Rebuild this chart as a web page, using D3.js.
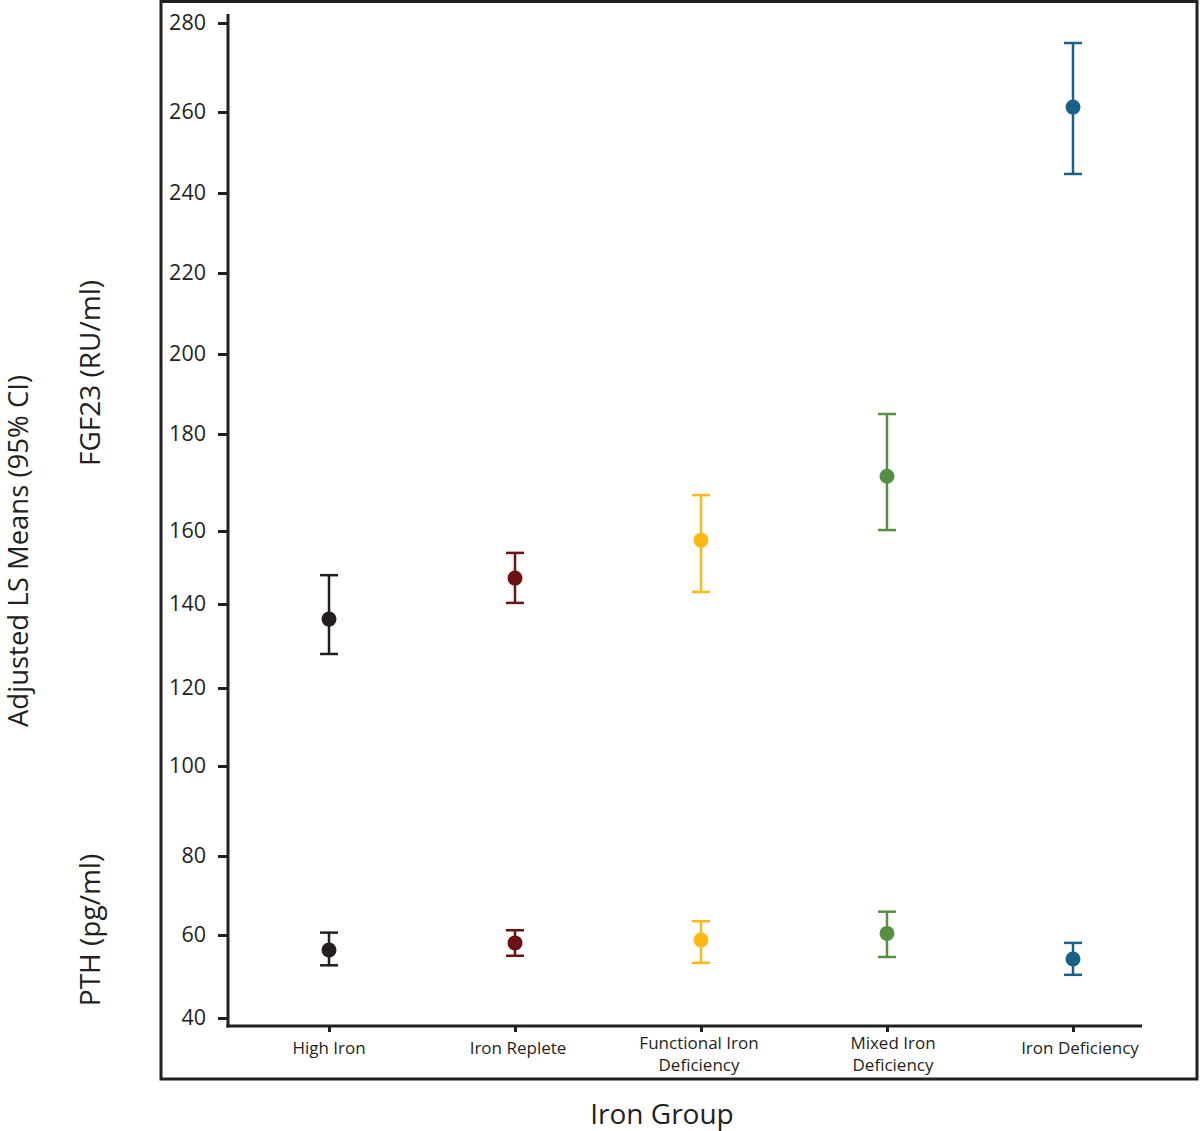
<!DOCTYPE html>
<html>
<head>
<meta charset="utf-8">
<script src="https://cdn.jsdelivr.net/npm/d3@7"></script>
<style>
  html, body { margin: 0; padding: 0; background: #fff; }
  svg text { font-family: "Open Sans", "Noto Sans", sans-serif; fill: #231f20; }
</style>
</head>
<body>
<svg id="chart" width="1200" height="1131"></svg>
<script>
// ---- Data ----
const categories = ["High Iron", "Iron Replete", "Functional Iron\nDeficiency", "Mixed Iron\nDeficiency", "Iron Deficiency"];
const colors = ["#231f20", "#6b1313", "#fdb913", "#558f41", "#1a6189"];

const fgf23Mean  = [136.4, 147.1, 157.5, 171.3, 261.1];
const fgf23Lower = [128.1, 140.3, 143.3, 160.2, 244.7];
const fgf23Upper = [147.9, 154.0, 167.4, 185.0, 275.5];

const pthMean  = [56.4, 58.1, 58.8, 60.4, 54.2];
const pthLower = [52.7, 55.0, 53.3, 54.7, 50.4];
const pthUpper = [60.6, 61.2, 63.5, 65.9, 58.1];

const yTicks = [40, 60, 80, 100, 120, 140, 160, 180, 200, 220, 240, 260, 280];

// ---- Layout ----
const svg = d3.select("#chart");
const axisX = 228, axisY = 1026, axisRight = 1142, axisTop = 14;

// The printed axis is not evenly spaced; map each tick to its drawn position.
const yTickPx = [1018, 935, 856, 766, 688, 604, 531, 434, 354, 273, 193, 112, 23];
const y = d3.scaleLinear().domain(yTicks).range(yTickPx);

const x = d3.scalePoint().domain(categories).range([329, 1073]);

// Outer frame
svg.append("rect")
  .attr("x", 161).attr("y", 1.5).attr("width", 1036).attr("height", 1077.5)
  .attr("fill", "none").attr("stroke", "#231f20").attr("stroke-width", 3);

// Y axis
const yAxis = d3.axisLeft(y).tickValues(yTicks).tickSize(10).tickPadding(12);
const gy = svg.append("g").attr("transform", `translate(${axisX},0)`).call(yAxis);
gy.select(".domain").remove();
gy.selectAll(".tick line").attr("stroke", "#231f20").attr("stroke-width", 3);
gy.selectAll(".tick text").attr("font-size", 21.5).attr("fill", "#231f20")
  .attr("font-family", "'Open Sans', sans-serif");
svg.append("line").attr("x1", axisX).attr("x2", axisX).attr("y1", axisTop).attr("y2", axisY + 1.5)
  .attr("stroke", "#231f20").attr("stroke-width", 3);

// X axis
svg.append("line").attr("x1", axisX - 1.5).attr("x2", axisRight).attr("y1", axisY).attr("y2", axisY)
  .attr("stroke", "#231f20").attr("stroke-width", 3);
const xAxis = d3.axisBottom(x).tickSize(6).tickFormat(() => "");
const gx = svg.append("g").attr("transform", `translate(0,${axisY})`).call(xAxis);
gx.select(".domain").remove();
gx.selectAll(".tick line").attr("stroke", "#231f20").attr("stroke-width", 3);

// Category labels
const labelOffsets = [0, 3, -2, 6, 7];
categories.forEach((c, i) => {
  const lines = c.split("\n");
  const t = svg.append("text")
    .attr("text-anchor", "middle")
    .attr("font-size", 17);
  if (lines.length === 1) {
    t.append("tspan").attr("x", x(c) + labelOffsets[i]).attr("y", 1054).text(lines[0]);
  } else {
    lines.forEach((l, j) => {
      t.append("tspan").attr("x", x(c) + labelOffsets[i]).attr("y", 1049 + j * 22).text(l);
    });
  }
});

// Error bars + points
const capW = 18;
function drawSeries(mean, lower, upper) {
  const g = svg.append("g");
  categories.forEach((c, i) => {
    const cx = x(c);
    g.append("line").attr("x1", cx).attr("x2", cx).attr("y1", y(lower[i])).attr("y2", y(upper[i]))
      .attr("stroke", colors[i]).attr("stroke-width", 2.5);
    [lower[i], upper[i]].forEach(v => {
      g.append("line").attr("x1", cx - capW / 2).attr("x2", cx + capW / 2)
        .attr("y1", y(v)).attr("y2", y(v))
        .attr("stroke", colors[i]).attr("stroke-width", 2.5);
    });
    g.append("circle").attr("cx", cx).attr("cy", y(mean[i])).attr("r", 7.5).attr("fill", colors[i]);
  });
}
drawSeries(fgf23Mean, fgf23Lower, fgf23Upper);
drawSeries(pthMean, pthLower, pthUpper);

// Axis titles
svg.append("text").attr("transform", "translate(28,551) rotate(-90)")
  .attr("text-anchor", "middle").attr("font-size", 27.5).text("Adjusted LS Means (95% CI)");
svg.append("text").attr("transform", "translate(100,373) rotate(-90)")
  .attr("text-anchor", "middle").attr("font-size", 28).text("FGF23 (RU/ml)");
svg.append("text").attr("transform", "translate(100,930) rotate(-90)")
  .attr("text-anchor", "middle").attr("font-size", 28).text("PTH (pg/ml)");
svg.append("text").attr("x", 662).attr("y", 1124)
  .attr("text-anchor", "middle").attr("font-size", 28).text("Iron Group");
</script>
</body>
</html>
